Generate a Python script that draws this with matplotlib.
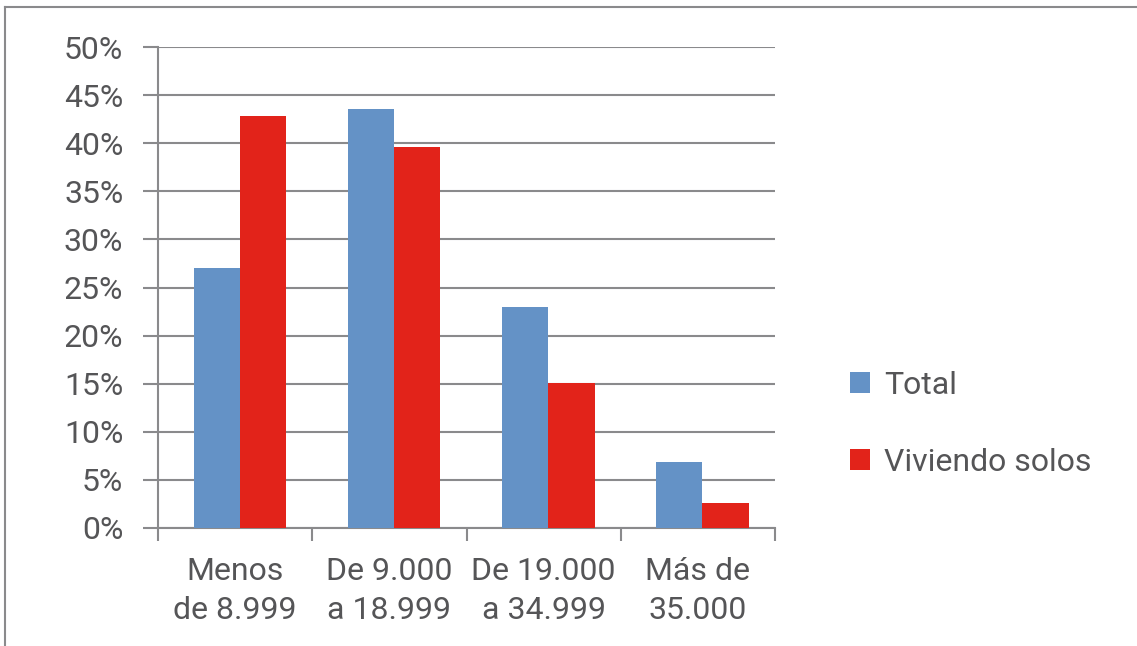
import matplotlib
matplotlib.use('Agg')
import numpy as np
import matplotlib.pyplot as plt
from matplotlib.lines import Line2D
from matplotlib.ticker import FuncFormatter

categories = ["Menos\nde 8.999", "De 9.000\na 18.999", "De 19.000\na 34.999", "Más de\n35.000"]
total = [27.0, 43.6, 23.0, 6.9]
viviendo_solos = [42.8, 39.6, 15.1, 2.6]
series_names = ["Total", "Viviendo solos"]

blue = '#6492C6'
red = '#E2231A'
grey = '#8A8A8C'
text_col = '#555557'

plt.rcParams['font.family'] = ['Roboto', 'DejaVu Sans']
plt.rcParams['font.size'] = 23

fig = plt.figure(figsize=(11.37, 6.46), dpi=100)
ax = fig.add_axes([0.139, 0.1827, 0.5426, 0.7445])

x = np.arange(len(categories))
width = 0.3
ax.bar(x - width/2 + 0.03, total, width, color=blue, label=series_names[0], zorder=3)
ax.bar(x + width/2 + 0.03, viviendo_solos, width, color=red, label=series_names[1], zorder=3)

ax.set_xlim(-0.5, 3.5)
ax.set_ylim(0, 50)
ax.set_yticks(np.arange(0, 51, 5))
ax.yaxis.set_major_formatter(FuncFormatter(lambda v, p: '%d%%' % v))
ax.grid(axis='y', color=grey, linewidth=1.5, zorder=0)

for s in ['top', 'right']:
    ax.spines[s].set_visible(False)
for s in ['left', 'bottom']:
    ax.spines[s].set_color(grey)
    ax.spines[s].set_linewidth(1.5)

ax.tick_params(axis='y', direction='out', length=11, width=1.5, color=grey,
               labelcolor=text_col, labelsize=23, pad=14)
ax.set_xticks(x)
ax.set_xticklabels(categories, linespacing=1.45)
ax.tick_params(axis='x', which='major', length=0, labelcolor=text_col, labelsize=23, pad=21)
ax.set_xticks(np.arange(-0.5, 4, 1), minor=True)
ax.tick_params(axis='x', which='minor', direction='out', length=9, width=1.5, color=grey)

ax.legend(loc='center left', bbox_to_anchor=(0.748, 0.344), bbox_transform=fig.transFigure,
          frameon=False, handlelength=0.6, handleheight=0.6, handletextpad=0.45,
          labelspacing=1.5, borderpad=0, borderaxespad=0, fontsize=23, labelcolor=text_col)

# frame lines of the figure box (top and left)
fig.add_artist(Line2D([0.004, 1], [1 - 7/646, 1 - 7/646], transform=fig.transFigure, color=grey, linewidth=1.5))
fig.add_artist(Line2D([0.0044, 0.0044], [0, 1 - 7/646], transform=fig.transFigure, color=grey, linewidth=1.5))

fig.savefig('out.png', dpi=100)
